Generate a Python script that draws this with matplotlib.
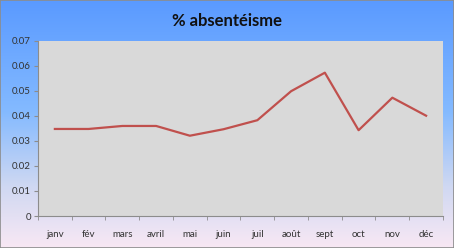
import numpy as np
import matplotlib
matplotlib.use('Agg')
import matplotlib.pyplot as plt
from matplotlib.colors import LinearSegmentedColormap

mois = ['janv', 'fév', 'mars', 'avril', 'mai', 'juin', 'juil', 'août', 'sept', 'oct', 'nov', 'déc']
absenteisme = [0.0348, 0.0348, 0.0360, 0.0360, 0.0321, 0.0347, 0.0383, 0.0499, 0.0573, 0.0343, 0.0473, 0.0401]
yticks = [0, 0.01, 0.02, 0.03, 0.04, 0.05, 0.06, 0.07]
ylabels = ['0', '0.01', '0.02', '0.03', '0.04', '0.05', '0.06', '0.07']

plt.rcParams['font.family'] = ['Lato', 'DejaVu Sans']

fig = plt.figure(figsize=(4.54, 2.48), dpi=100)

# fond dégradé bleu -> rose
bg = fig.add_axes([0, 0, 1, 1], zorder=0)
cmap = LinearSegmentedColormap.from_list(
    'fond', [(0, '#5a9aff'), (0.45, '#84baff'), (0.75, '#cfd8f2'), (1, '#f8e8f4')])
grad = np.linspace(0, 1, 256).reshape(-1, 1)
bg.imshow(grad, aspect='auto', cmap=cmap, extent=[0, 1, 0, 1], origin='upper')
bg.set_xlim(0, 1)
bg.set_ylim(0, 1)
for s in bg.spines.values():
    s.set_color('#8c8c8c')
    s.set_linewidth(1.2)
bg.set_xticks([])
bg.set_yticks([])

ax = fig.add_axes([0.0837, 0.129, 0.892, 0.706], zorder=1)
ax.set_facecolor('#d9d9d9')
x = np.arange(len(mois))
ax.plot(x, absenteisme, color='#c0504d', linewidth=1.6)

ax.set_xlim(-0.5, len(mois) - 0.5)
ax.set_ylim(0, 0.07)
ax.set_yticks(yticks)
ax.set_yticklabels(ylabels)
ax.set_xticks(x)
ax.set_xticklabels(mois)
ax.set_xticks(np.arange(-0.5, len(mois)), minor=True)
ax.tick_params(axis='x', which='major', length=0, pad=10, labelsize=7, colors='#333333')
ax.tick_params(axis='x', which='minor', length=3, color='#8c8c8c', direction='out')
ax.tick_params(axis='y', length=3, color='#8c8c8c', labelsize=7, labelcolor='#333333', pad=2)
for s in ['top', 'right']:
    ax.spines[s].set_visible(False)
for s in ['left', 'bottom']:
    ax.spines[s].set_color('#8c8c8c')
    ax.spines[s].set_linewidth(0.8)

fig.text(0.5, 0.915, '% absentéisme', ha='center', va='center', fontsize=12, fontweight='bold', color='#111111')

fig.savefig('out.png', dpi=100)
